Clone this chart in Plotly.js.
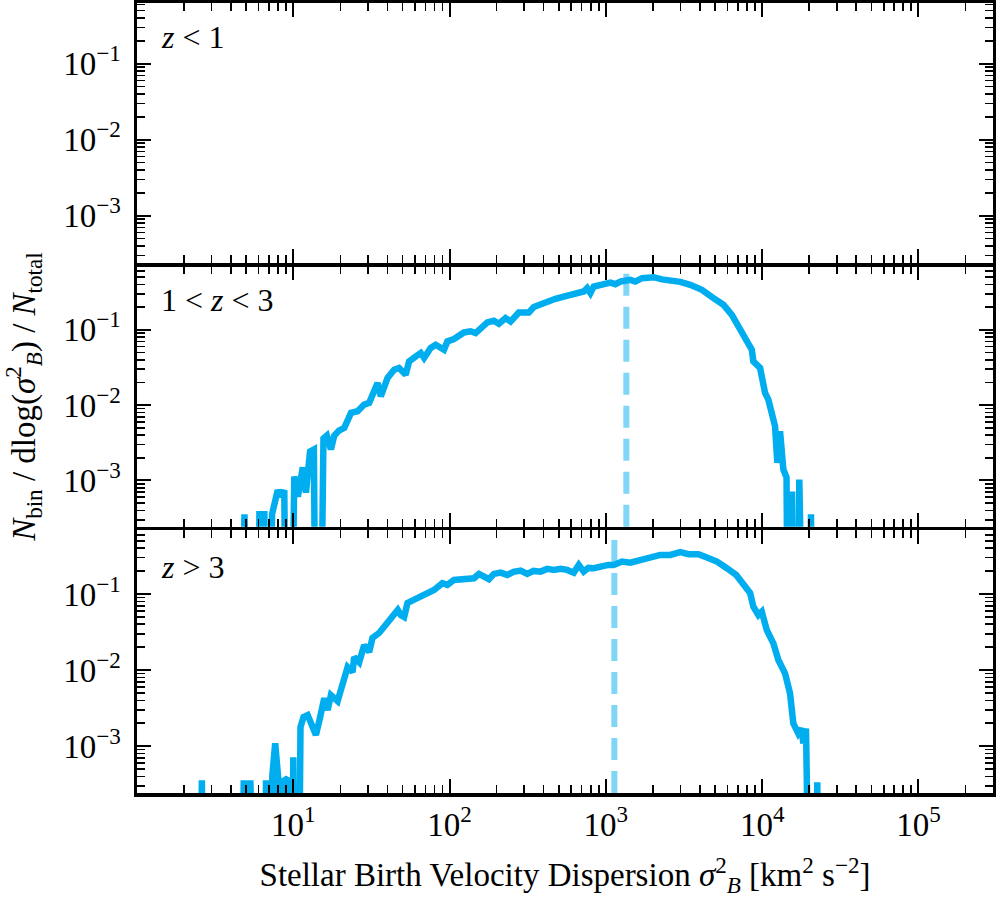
<!DOCTYPE html>
<html>
<head>
<meta charset="utf-8">
<script src="https://cdn.plot.ly/plotly-3.0.1.min.js"></script>
<style>
  html, body { margin: 0; padding: 0; background: #fff; }
  #chart { width: 996px; height: 900px; }
</style>
</head>
<body>
<div id="chart"></div>
<script>
// sigma_B^2 bins [km^2 s^-2] and N_bin / dlog / N_total.
// Empty bins are 0 (matplotlib clips them to a tiny number on a log axis).

// z < 1 : no stars
var lowX = [];
var lowY = [];

// 1 < z < 3
var midX = [4.63, 4.87, 5.10, 5.78, 6.07, 6.53, 6.86, 7.31, 7.95, 8.35,
    8.76, 9.25, 10.15, 10.7, 11.5, 12.05, 12.8, 13.55, 14.27, 14.92,
    15.6, 16.4, 17.4, 18.3, 19.6, 21.2, 23.4, 25.8, 28.4, 30.6,
    32.8, 34.6, 36.3, 40.1, 44.2, 47.5, 52.4, 55.1, 60.8, 65.4,
    68.7, 75.7, 81.5, 87.8, 92.1, 96.8, 106.7, 123.6, 136.4, 146.8,
    158.0, 174.3, 192.1, 206.8, 228.2, 245.6, 277.5, 321.5, 346, 381.8,
    421.3, 476, 537.9, 623, 721.5, 758.6, 796.2, 836, 922.6, 1069,
    1150, 1238, 1434, 1543, 1703, 2020, 2286, 2582, 2991, 3465,
    4116, 4881, 5653, 6398, 7049, 7978, 8584, 8787, 9698, 10437,
    10957, 12091, 12510, 13016, 13664, 14322, 14966, 15530, 16230, 17290,
    18120, 19500, 20530, 21620];
var midY = [0, 3.55e-4, 0, 0, 3.55e-4, 3.55e-4, 0, 3.55e-4, 7.4e-4, 6.1e-4,
    7.4e-4, 0, 1.13e-3, 6.1e-4, 1.49e-3, 6.9e-4, 2.42e-3, 2.58e-3, 0, 0,
    3.6e-3, 3.94e-3, 2.58e-3, 3.94e-3, 4.59e-3, 4.99e-3, 7.89e-3, 8.28e-3, 1.016e-2, 1.07e-2,
    1.51e-2, 1.97e-2, 1.31e-2, 2.29e-2, 2.95e-2, 3.11e-2, 2.54e-2, 3.80e-2, 4.43e-2, 4.91e-2,
    4.22e-2, 5.73e-2, 6.33e-2, 5.73e-2, 5.43e-2, 7.0e-2, 7.53e-2, 9.21e-2, 9.55e-2, 9.04e-2,
    0.1053, 0.125, 0.1316, 0.1201, 0.1429, 0.1288, 0.1695, 0.1695, 0.1999, 0.219,
    0.237, 0.2574, 0.2761, 0.2907, 0.3216, 0.3566, 0.3063, 0.3747, 0.3945, 0.4231,
    0.403, 0.4362, 0.4594, 0.4362, 0.484, 0.4989, 0.4666, 0.4594, 0.4323, 0.3945,
    0.3387, 0.263, 0.2143, 0.158, 0.1096, 0.0737, 0.0543, 0.038, 0.0311, 0.01452,
    0.01183, 5.24e-3, 1.71e-3, 4.5e-3, 1.4e-3, 1.1e-3, 0, 7.14e-4, 0, 1.03e-3,
    0, 0, 3.55e-4, 0];

// z > 3
var highX = [2.43, 2.60, 2.77, 4.50, 4.82, 5.06, 5.31, 5.58, 6.36, 6.69,
    7.03, 7.34, 7.66, 8.02, 8.41, 8.79, 9.21, 9.60, 10.0, 10.48,
    11.12, 11.62, 12.36, 13.07, 13.96, 14.81, 15.78, 16.59, 17.41, 19.21,
    20.62, 22.26, 23.95, 24.52, 26.4, 28.4, 30.6, 32.1, 35.4, 40.1,
    44.2, 46.6, 48.7, 51.2, 53.8, 59.3, 65.4, 72.2, 79.5, 89.9,
    96.8, 106.7, 123.6, 143.2, 154.1, 165.1, 178.5, 192.1, 212.1, 234,
    256.7, 284.6, 314.1, 344.5, 381.8, 421.3, 464.2, 512.3, 565.2, 623,
    670.7, 721.5, 773.2, 836, 896, 968, 1038, 1122, 1184, 1269,
    1434, 1661, 1924, 2229, 2582, 2779, 2991, 3381, 3915, 4430,
    5133, 5944, 6817, 7499, 8374, 8787, 9461, 9945, 10703, 11795,
    12696, 14011, 15080, 15826, 17036, 17906, 18332, 19074, 19935, 21300,
    22530, 23780];
var highY = [0, 3.57e-4, 0, 0, 3.57e-4, 0, 3.57e-4, 0, 0, 3.57e-4,
    0, 4.03e-4, 1.09e-3, 3.68e-4, 0, 3.57e-4, 3.79e-4, 0, 7.16e-4, 0,
    1.78e-3, 2.41e-3, 2.56e-3, 1.89e-3, 1.40e-3, 2.34e-3, 4.28e-3, 2.98e-3, 4.69e-3, 3.91e-3,
    6.35e-3, 1.095e-2, 9.42e-3, 1.48e-2, 1.27e-2, 2.13e-2, 1.73e-2, 2.64e-2, 3.07e-2, 4.15e-2,
    5.62e-2, 6.16e-2, 5.29e-2, 4.98e-2, 7.62e-2, 8.33e-2, 9.13e-2, 0.1031, 0.1129, 0.1383,
    0.1313, 0.1528, 0.1561, 0.1609, 0.1833, 0.1699, 0.1561, 0.1833, 0.1906, 0.1778,
    0.1948, 0.2025, 0.1833, 0.2007, 0.1965, 0.2133, 0.207, 0.2133, 0.207, 0.1906,
    0.2407, 0.1965, 0.2198, 0.2179, 0.2266, 0.2287, 0.2407, 0.2407, 0.2519, 0.2661,
    0.2581, 0.2802, 0.2949, 0.326, 0.326, 0.336, 0.3537, 0.333, 0.333, 0.302,
    0.2661, 0.2179, 0.1778, 0.1383, 0.1031, 0.0681, 0.0529, 0.0585, 0.0336, 0.02245,
    0.01355, 9.06e-3, 4.94e-3, 1.99e-3, 1.47e-3, 1.71e-3, 1.085e-3, 1.71e-3, 0, 0,
    3.36e-4, 0];

// medians of each redshift bin (dashed lines)
var midMedian = 1352;
var highMedian = 1133;

var panelLabels = ['<i>z</i> &lt; 1', '1 &lt; <i>z</i> &lt; 3', '<i>z</i> &gt; 3'];

var xTickVals = [10, 100, 1000, 10000, 100000];
var xTickText = ['10<sup>1</sup>', '10<sup>2</sup>', '10<sup>3</sup>', '10<sup>4</sup>', '10<sup>5</sup>'];
var yTickVals = [0.001, 0.01, 0.1];
var yTickText = ['10<sup>\u22123</sup>', '10<sup>\u22122</sup>', '10<sup>\u22121</sup>'];

var lineColor = '#00aeef';
var medianColor = 'rgba(0,174,239,0.5)';
var serif = 'Liberation Serif';

// like matplotlib's nonpositive='clip'
function clipZero(arr)
{
    return arr.map(function(v) { return v > 0 ? v : 1e-9; });
}

// minor ticks 2..9 per decade
function minorTicks(fromExp, toExp)
{
    var vals = [];
    for(var e = fromExp; e <= toExp; e++)
    {
        for(var m = 2; m <= 9; m++)
        {
            vals.push(m * Math.pow(10, e));
        }
    }
    return vals;
}

var xMinor = minorTicks(0, 5);
var yMinor = minorTicks(-4, -1);

function makeXAxis(anchor, showLabels)
{
    var ax = {
        type: 'log',
        range: [0, 5.477],
        anchor: anchor,
        showgrid: false,
        zeroline: false,
        showline: true,
        linewidth: 3.5,
        linecolor: 'black',
        mirror: 'allticks',
        ticks: 'inside',
        ticklen: 14,
        tickwidth: 2,
        tickcolor: 'black',
        tickvals: xTickVals,
        ticktext: xTickText,
        showticklabels: showLabels,
        ticklabelstandoff: 0,
        tickfont: {family: serif, size: 33, color: 'black'},
        minor: {tickvals: xMinor, ticks: 'inside', ticklen: 8, tickwidth: 1.6, tickcolor: 'black', showgrid: false}
    };
    if(anchor !== 'y')
    {
        ax.matches = 'x';
    }
    return ax;
}

function makeYAxis(anchor, domain, range)
{
    return {
        type: 'log',
        domain: domain,
        range: range,
        anchor: anchor,
        showgrid: false,
        zeroline: false,
        showline: true,
        linewidth: 3.5,
        linecolor: 'black',
        mirror: 'allticks',
        ticks: 'inside',
        ticklen: 14,
        tickwidth: 2,
        tickcolor: 'black',
        tickvals: yTickVals,
        ticktext: yTickText,
        ticklabelstandoff: 6,
        tickfont: {family: serif, size: 33, color: 'black'},
        minor: {tickvals: yMinor, ticks: 'inside', ticklen: 8, tickwidth: 1.6, tickcolor: 'black', showgrid: false}
    };
}

var plotlyData = [
    {
        x: highX,
        y: clipZero(highY),
        xaxis: 'x',
        yaxis: 'y',
        type: 'scatter',
        mode: 'lines',
        line: {color: lineColor, width: 6.5},
        hoverinfo: 'skip'
    },
    {
        x: midX,
        y: clipZero(midY),
        xaxis: 'x2',
        yaxis: 'y2',
        type: 'scatter',
        mode: 'lines',
        line: {color: lineColor, width: 6.5},
        hoverinfo: 'skip'
    },
    {
        x: lowX,
        y: lowY,
        xaxis: 'x3',
        yaxis: 'y3',
        type: 'scatter',
        mode: 'lines',
        line: {color: lineColor, width: 6.5},
        hoverinfo: 'skip'
    }
];

var xaxisBottom = makeXAxis('y', true);
xaxisBottom.title = {
    text: 'Stellar Birth Velocity Dispersion <i>\u03c3</i><sup>2</sup><sub><i>B</i></sub> [km<sup>2</sup> s<sup>\u22122</sup>]',
    font: {family: serif, size: 33, color: 'black'},
    standoff: 22
};

var yaxisMid = makeYAxis('x2', [0.337, 0.6665], [-3.615, -0.16]);
yaxisMid.title = {
    text: '<i>N</i><sub>bin</sub> / dlog(<i>\u03c3</i><sup>2</sup><sub><i>B</i></sub>) / <i>N</i><sub>total</sub>',
    font: {family: serif, size: 33, color: 'black'},
    standoff: 27
};

var plotlyLayout = {
    width: 996,
    height: 900,
    margin: {l: 137, r: 3, t: 3, b: 107},
    paper_bgcolor: 'white',
    plot_bgcolor: 'white',
    showlegend: false,
    font: {family: serif, size: 33, color: 'black'},
    xaxis: xaxisBottom,
    xaxis2: makeXAxis('y2', false),
    xaxis3: makeXAxis('y3', false),
    yaxis: makeYAxis('x', [0, 0.3329], [-3.615, -0.16]),
    yaxis2: yaxisMid,
    yaxis3: makeYAxis('x3', [0.6707, 1], [-3.625, -0.2]),
    shapes: [
        {
            type: 'line', xref: 'x2', yref: 'y2 domain',
            x0: midMedian, x1: midMedian, y0: 0, y1: 1,
            line: {color: medianColor, width: 6, dash: '22px,11px'},
            layer: 'above'
        },
        {
            type: 'line', xref: 'x', yref: 'y domain',
            x0: highMedian, x1: highMedian, y0: 0, y1: 1,
            line: {color: medianColor, width: 6, dash: '22px,11px'},
            layer: 'above'
        }
    ],
    annotations: [
        {text: panelLabels[0], xref: 'x3 domain', yref: 'y3 domain', x: 0.026, y: 0.87,
         xanchor: 'left', yanchor: 'middle', showarrow: false, font: {size: 32, family: serif}},
        {text: panelLabels[1], xref: 'x2 domain', yref: 'y2 domain', x: 0.026, y: 0.87,
         xanchor: 'left', yanchor: 'middle', showarrow: false, font: {size: 32, family: serif}},
        {text: panelLabels[2], xref: 'x domain', yref: 'y domain', x: 0.026, y: 0.86,
         xanchor: 'left', yanchor: 'middle', showarrow: false, font: {size: 32, family: serif}}
    ]
};

var plotlyConfig = {
    displayModeBar: false,
    responsive: false,
    staticPlot: true
};

Plotly.newPlot('chart', plotlyData, plotlyLayout, plotlyConfig);
</script>
</body>
</html>
